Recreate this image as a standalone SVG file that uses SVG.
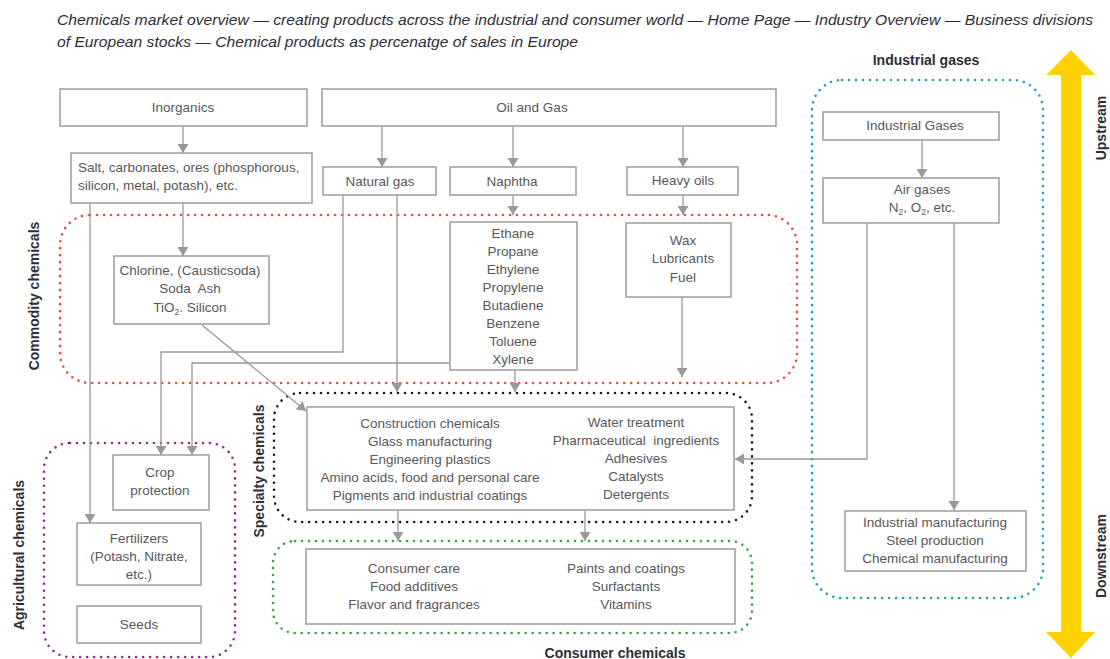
<svg xmlns="http://www.w3.org/2000/svg" width="1110" height="659" viewBox="0 0 1110 659">
  <style>
    .box { fill: #ffffff; stroke: #a3a3a3; stroke-width: 1.6; }
    .t { font-family: "Liberation Sans", Arial, sans-serif; font-size: 13.5px; fill: #58585a; text-anchor: middle; white-space: pre; }
    .tl { text-anchor: start; }
    .lbl { font-family: "Liberation Sans", Arial, sans-serif; font-size: 14px; font-weight: bold; fill: #2e2e38; text-anchor: middle; }
    .title { font-family: "Liberation Sans", Arial, sans-serif; font-size: 14.5px; font-style: italic; fill: #2e2e38; }
    .zone { fill: none; stroke-width: 2.6; stroke-dasharray: 0 7; stroke-linecap: round; }
    .conn path { fill: none; stroke: #999999; stroke-width: 1.3; marker-end: url(#ah); }
    .sub { font-size: 8.5px; }
  </style>
  <defs>
    <marker id="ah" viewBox="0 0 9 11" refX="9" refY="5.5" markerWidth="9" markerHeight="11" orient="auto" markerUnits="userSpaceOnUse">
      <path d="M0,0 L9,5.5 L0,11 z" fill="#999999"/>
    </marker>
  </defs>

  <rect width="1110" height="659" fill="#ffffff"/>

  <!-- heading -->
  <text class="title" x="57" y="25" textLength="1036" lengthAdjust="spacingAndGlyphs">Chemicals market overview — creating products across the industrial and consumer world — Home Page — Industry Overview — Business divisions</text>
  <text class="title" x="57" y="47" textLength="521" lengthAdjust="spacingAndGlyphs">of European stocks — Chemical products as percenatge of sales in Europe</text>

  <!-- dotted segment outlines -->
  <g id="zones">
    <rect class="zone" x="60" y="215" width="737" height="168" rx="30" stroke="#f04a3e"/>
    <rect class="zone" x="274" y="393" width="478" height="129" rx="26" stroke="#1a1a1a"/>
    <rect class="zone" x="44" y="443" width="191" height="214" rx="26" stroke="#912a8e"/>
    <rect class="zone" x="273" y="541" width="479" height="92" rx="22" stroke="#36a441"/>
    <rect class="zone" x="812" y="80" width="231" height="518" rx="30" stroke="#1aa0b8"/>
  </g>

  <!-- segment labels -->
  <g id="labels">
    <text class="lbl" x="926" y="65">Industrial gases</text>
    <text class="lbl" x="615" y="658">Consumer chemicals</text>
    <text class="lbl" transform="translate(39,296) rotate(-90)">Commodity chemicals</text>
    <text class="lbl" transform="translate(24,555) rotate(-90)">Agricultural chemicals</text>
    <text class="lbl" transform="translate(264,471) rotate(-90)">Specialty chemicals</text>
    <text class="lbl" transform="translate(1106,128) rotate(-90)">Upstream</text>
    <text class="lbl" transform="translate(1106,556) rotate(-90)">Downstream</text>
  </g>

  <!-- value-chain direction arrow -->
  <polygon id="stream" fill="#ffd200" points="1071,50 1095,75 1081,75 1081,632 1095,632 1071,658 1046,632 1061,632 1061,75 1046,75"/>

  <!-- connectors -->
  <g id="connectors" class="conn">
    <path d="M183,126 V153"/>
    <path d="M382,126 V167"/>
    <path d="M513,126 V167"/>
    <path d="M683,126 V167"/>
    <path d="M183,203 V256"/>
    <path d="M90,203 V523"/>
    <path d="M343,195 V352 H161 V455"/>
    <path d="M397,195 V392"/>
    <path d="M450,363 H192 V455"/>
    <path d="M202,325 L306,411"/>
    <path d="M513,195 V215"/>
    <path d="M683,195 V215"/>
    <path d="M515,370 V392"/>
    <path d="M682,297 V377"/>
    <path d="M922,140 V178"/>
    <path d="M867,223 V459 H735"/>
    <path d="M954,223 V510"/>
    <path d="M398,510 V541"/>
    <path d="M585,510 V541"/>
  </g>

  <!-- nodes -->
  <g id="inorganics">
    <rect class="box" x="60" y="89" width="247" height="37"/>
    <text class="t" x="183" y="112">Inorganics</text>
  </g>
  <g id="oil-and-gas">
    <rect class="box" x="322" y="89" width="454" height="37"/>
    <text class="t" x="532" y="112">Oil and Gas</text>
  </g>
  <g id="salt">
    <rect class="box" x="71" y="153" width="241" height="50"/>
    <text class="t tl" x="78" y="172">Salt, carbonates, ores (phosphorous,</text>
    <text class="t tl" x="78" y="190">silicon, metal, potash), etc.</text>
  </g>
  <g id="natural-gas">
    <rect class="box" x="323" y="167" width="113" height="28"/>
    <text class="t" x="380" y="186">Natural gas</text>
  </g>
  <g id="naphtha">
    <rect class="box" x="450" y="167" width="126" height="28"/>
    <text class="t" x="512" y="186">Naphtha</text>
  </g>
  <g id="heavy-oils">
    <rect class="box" x="627" y="167" width="111" height="28"/>
    <text class="t" x="683" y="185">Heavy oils</text>
  </g>
  <g id="industrial-gases">
    <rect class="box" x="823" y="112" width="176" height="28"/>
    <text class="t" x="915" y="130">Industrial Gases</text>
  </g>
  <g id="air-gases">
    <rect class="box" x="823" y="178" width="176" height="45"/>
    <text class="t" x="922" y="194">Air gases</text>
    <text class="t" x="922" y="212">N<tspan class="sub" dy="3">2</tspan><tspan dy="-3">, O</tspan><tspan class="sub" dy="3">2</tspan><tspan dy="-3">, etc.</tspan></text>
  </g>
  <g id="chlorine">
    <rect class="box" x="114" y="256" width="155" height="68"/>
    <text class="t" x="190" y="275">Chlorine, (Causticsoda)</text>
    <text class="t" x="190" y="293">Soda  Ash</text>
    <text class="t" x="190" y="312">TiO<tspan class="sub" dy="3">2</tspan><tspan dy="-3">. Silicon</tspan></text>
  </g>
  <g id="petrochemicals">
    <rect class="box" x="450" y="222" width="127" height="148"/>
    <text class="t" x="513" y="238">Ethane</text>
    <text class="t" x="513" y="256">Propane</text>
    <text class="t" x="513" y="274">Ethylene</text>
    <text class="t" x="513" y="292">Propylene</text>
    <text class="t" x="513" y="310">Butadiene</text>
    <text class="t" x="513" y="328">Benzene</text>
    <text class="t" x="513" y="346">Toluene</text>
    <text class="t" x="513" y="364">Xylene</text>
  </g>
  <g id="wax">
    <rect class="box" x="626" y="223" width="105" height="74"/>
    <text class="t" x="683" y="245">Wax</text>
    <text class="t" x="683" y="263">Lubricants</text>
    <text class="t" x="683" y="282">Fuel</text>
  </g>
  <g id="specialty">
    <rect class="box" x="307" y="407" width="427" height="103"/>
    <text class="t" x="430" y="428">Construction chemicals</text>
    <text class="t" x="430" y="446">Glass manufacturing</text>
    <text class="t" x="430" y="464">Engineering plastics</text>
    <text class="t" x="430" y="482">Amino acids, food and personal care</text>
    <text class="t" x="430" y="500">Pigments and industrial coatings</text>
    <text class="t" x="636" y="427">Water treatment</text>
    <text class="t" x="636" y="445">Pharmaceutical  ingredients</text>
    <text class="t" x="636" y="463">Adhesives</text>
    <text class="t" x="636" y="481">Catalysts</text>
    <text class="t" x="636" y="499">Detergents</text>
  </g>
  <g id="crop-protection">
    <rect class="box" x="113" y="455" width="96" height="55"/>
    <text class="t" x="160" y="477">Crop</text>
    <text class="t" x="160" y="495">protection</text>
  </g>
  <g id="fertilizers">
    <rect class="box" x="77" y="523" width="124" height="62"/>
    <text class="t" x="139" y="543">Fertilizers</text>
    <text class="t" x="139" y="561">(Potash, Nitrate,</text>
    <text class="t" x="139" y="579">etc.)</text>
  </g>
  <g id="seeds">
    <rect class="box" x="77" y="606" width="124" height="37"/>
    <text class="t" x="139" y="629">Seeds</text>
  </g>
  <g id="consumer">
    <rect class="box" x="306" y="549" width="429" height="75"/>
    <text class="t" x="414" y="573">Consumer care</text>
    <text class="t" x="414" y="591">Food additives</text>
    <text class="t" x="414" y="609">Flavor and fragrances</text>
    <text class="t" x="626" y="573">Paints and coatings</text>
    <text class="t" x="626" y="591">Surfactants</text>
    <text class="t" x="626" y="609">Vitamins</text>
  </g>
  <g id="industrial-uses">
    <rect class="box" x="845" y="511" width="181" height="60"/>
    <text class="t" x="935" y="527">Industrial manufacturing</text>
    <text class="t" x="935" y="545">Steel production</text>
    <text class="t" x="935" y="563">Chemical manufacturing</text>
  </g>
</svg>
